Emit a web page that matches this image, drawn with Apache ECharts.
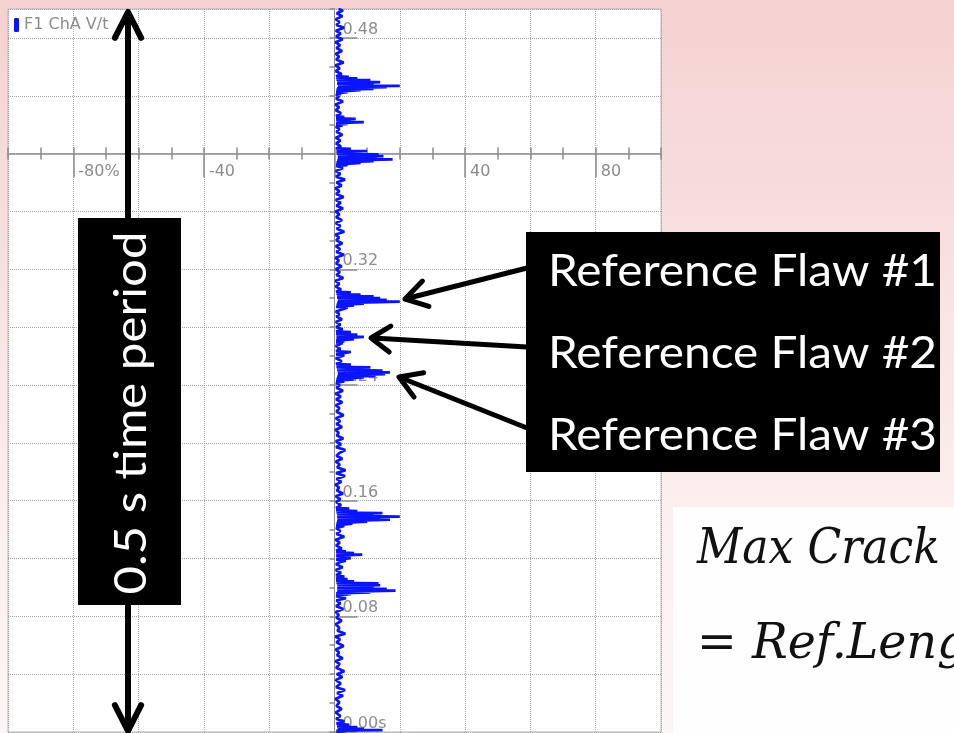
<!DOCTYPE html>
<html>
<head>
<meta charset="utf-8">
<script src="https://cdn.jsdelivr.net/npm/echarts@6/dist/echarts.min.js"></script>
<style>
  html, body { margin: 0; padding: 0; background: #fbe9e9; }
  #chart { width: 954px; height: 733px; }
</style>
</head>
<body>
<div id="chart"></div>
<script>
// ---- scales of the scope screen ----
const ampRange = [-100, 100];          // horizontal deflection, %
const timeRange = [0, 0.5];            // sweep window, s
const axisCrossTime = 0.40;            // where the amplitude axis is drawn

// ---- tick labels ----
const ampMajorTicks = [-80, -40, 0, 40, 80];
const ampTickValues = [-80, -40, 40, 80];
const ampTickLabels = ['-80%', '-40', '40', '80'];
const timeTickValues = [0, 0.08, 0.16, 0.24, 0.32, 0.48];
const timeTickLabels = ['0.00s', '0.08', '0.16', '0.24', '0.32', '0.48'];

const seriesName = 'F1 ChA V/t';

// ---- recorded trace: [time (s), amplitude (%)] ----
const trace = [
  [0.0000, 0.5], [0.0005, 3.5], [0.0009, 0.6], [0.0013, 14.7], [0.0017, 1.0], [0.0022, 9.0],
  [0.0026, 1.0], [0.0034, 7.0], [0.0039, 0.8], [0.0050, 4.5], [0.0058, 0.6], [0.0074, 3.0],
  [0.0090, 0.5], [0.0110, 1.8], [0.0135, 0.4], [0.0160, 2.2], [0.0180, 0.6], [0.0205, 1.5],
  [0.0230, 0.3], [0.0250, 2.6], [0.0270, 0.8], [0.0290, 3.2], [0.0310, 0.5], [0.0335, 1.9],
  [0.0360, 0.4], [0.0380, 2.4], [0.0400, 0.7], [0.0420, 3.0], [0.0445, 0.5], [0.0470, 1.6],
  [0.0490, 0.3], [0.0510, 2.5], [0.0530, 0.8], [0.0550, 1.4], [0.0570, 0.4], [0.0595, 2.8],
  [0.0620, 0.6], [0.0640, 1.7], [0.0660, 0.3], [0.0680, 3.3], [0.0700, 0.9], [0.0720, 1.5],
  [0.0745, 0.4], [0.0770, 2.2], [0.0790, 0.6], [0.0810, 1.3], [0.0830, 0.4], [0.0850, 2.7],
  [0.0870, 0.5], [0.0890, 1.8], [0.0910, 0.6], [0.0925, 3.5], [0.0940, 0.5],
  // echo near 0.10 s
  [0.0955, 5.0], [0.0958, 0.5], [0.0966, 11.0], [0.0969, 0.8], [0.0978, 18.7], [0.0981, 1.0],
  [0.0990, 16.0], [0.0993, 0.8], [0.1003, 12.0], [0.1006, 1.0], [0.1015, 14.0], [0.1018, 0.8],
  [0.1028, 13.5], [0.1031, 0.6], [0.1042, 6.0], [0.1046, 0.5], [0.1058, 4.0], [0.1062, 0.5],
  [0.1075, 3.0], [0.1085, 0.5], [0.1100, 2.0], [0.1120, 0.4], [0.1140, 2.5], [0.1160, 0.5],
  [0.1175, 1.6],
  // small echo near 0.12 s
  [0.1185, 3.5], [0.1192, 0.5], [0.1202, 5.0], [0.1206, 0.6], [0.1216, 4.0], [0.1219, 0.5],
  [0.1226, 8.5], [0.1230, 0.6], [0.1238, 6.0], [0.1242, 0.5], [0.1250, 3.5], [0.1255, 0.5],
  [0.1270, 2.2], [0.1290, 0.5], [0.1310, 1.6], [0.1330, 0.3], [0.1350, 3.0], [0.1370, 0.6],
  [0.1390, 1.8], [0.1410, 0.5],
  // echo near 0.15 s
  [0.1425, 3.0], [0.1429, 0.5], [0.1440, 5.5], [0.1444, 0.6], [0.1455, 10.0], [0.1459, 0.8],
  [0.1468, 17.0], [0.1472, 1.0], [0.1480, 14.0], [0.1484, 0.8], [0.1490, 20.0], [0.1494, 1.0],
  [0.1503, 12.0], [0.1507, 0.8], [0.1514, 14.7], [0.1518, 0.6], [0.1528, 7.0], [0.1532, 0.5],
  [0.1545, 4.5], [0.1550, 0.5], [0.1570, 2.0], [0.1590, 0.5], [0.1610, 1.8], [0.1630, 0.4],
  [0.1650, 2.6], [0.1670, 0.7], [0.1690, 1.4], [0.1710, 0.3], [0.1730, 2.1], [0.1750, 0.6],
  [0.1770, 3.2], [0.1790, 0.5], [0.1810, 3.4], [0.1830, 0.8], [0.1850, 1.6], [0.1870, 0.4],
  [0.1890, 2.4], [0.1910, 0.6], [0.1930, 1.5], [0.1950, 3.3], [0.1970, 0.5], [0.1990, 2.0],
  [0.2010, 0.4], [0.2030, 2.7], [0.2050, 0.7], [0.2070, 1.3], [0.2090, 0.3], [0.2110, 2.3],
  [0.2130, 0.6], [0.2150, 1.7], [0.2170, 0.4], [0.2190, 2.8], [0.2215, 0.6], [0.2240, 1.5],
  [0.2260, 0.4], [0.2280, 2.4], [0.2300, 0.5], [0.2320, 1.9], [0.2340, 0.3], [0.2360, 2.6],
  [0.2380, 0.6], [0.2400, 1.6], [0.2415, 0.5],
  // reference flaw #3
  [0.2425, 3.0], [0.2429, 0.5], [0.2438, 6.0], [0.2442, 0.6], [0.2452, 9.0], [0.2456, 0.8],
  [0.2462, 12.5], [0.2466, 1.0], [0.2475, 15.5], [0.2479, 1.0], [0.2487, 17.0], [0.2491, 1.0],
  [0.2500, 14.7], [0.2504, 0.8], [0.2512, 7.0], [0.2516, 0.7], [0.2522, 11.0], [0.2526, 0.6],
  [0.2540, 5.0], [0.2545, 0.5], [0.2565, 2.2], [0.2585, 0.4], [0.2605, 3.0], [0.2612, 0.5],
  [0.2628, 5.0], [0.2634, 0.5], [0.2650, 1.8], [0.2670, 0.4], [0.2690, 2.5], [0.2695, 0.5],
  // reference flaw #2
  [0.2702, 3.0], [0.2706, 0.5], [0.2716, 6.0], [0.2720, 0.6], [0.2733, 9.0], [0.2737, 0.6],
  [0.2748, 7.0], [0.2752, 0.5], [0.2765, 5.0], [0.2770, 0.5], [0.2785, 2.5], [0.2800, 0.5],
  [0.2818, 1.8], [0.2836, 0.4], [0.2855, 2.3], [0.2873, 0.6], [0.2890, 1.5], [0.2908, 0.4],
  [0.2925, 2.8],
  // reference flaw #1
  [0.2935, 4.0], [0.2939, 0.5], [0.2950, 6.0], [0.2954, 0.6], [0.2962, 9.0], [0.2966, 0.8],
  [0.2976, 20.0], [0.2980, 1.0], [0.2988, 16.0], [0.2992, 1.0], [0.3000, 14.0], [0.3004, 0.8],
  [0.3012, 12.0], [0.3016, 0.8], [0.3025, 8.0], [0.3029, 0.6], [0.3040, 5.0], [0.3045, 0.5],
  [0.3060, 2.0], [0.3080, 0.4], [0.3100, 1.5], [0.3120, 0.3], [0.3140, 2.7], [0.3160, 0.6],
  [0.3180, 1.6], [0.3200, 0.4], [0.3220, 2.2], [0.3240, 0.5], [0.3260, 1.3], [0.3280, 0.3],
  [0.3300, 2.9], [0.3320, 0.6], [0.3340, 1.7], [0.3360, 0.4], [0.3380, 2.4], [0.3400, 0.5],
  [0.3420, 1.4], [0.3440, 0.3], [0.3460, 3.0], [0.3480, 0.7], [0.3500, 1.8], [0.3520, 0.4],
  [0.3540, 2.3], [0.3560, 0.5], [0.3580, 1.5], [0.3600, 0.3], [0.3620, 2.6], [0.3640, 0.6],
  [0.3660, 1.9], [0.3680, 0.4], [0.3700, 2.8], [0.3720, 0.5], [0.3740, 1.5], [0.3760, 0.3],
  [0.3780, 2.2], [0.3800, 0.6], [0.3820, 3.2], [0.3840, 0.5], [0.3860, 1.8], [0.3880, 0.4],
  [0.3900, 2.6], [0.3915, 0.5],
  // echo near 0.40 s
  [0.3920, 4.0], [0.3924, 0.5], [0.3936, 8.0], [0.3940, 0.6], [0.3948, 12.0], [0.3952, 0.8],
  [0.3960, 17.8], [0.3964, 1.0], [0.3972, 13.0], [0.3976, 1.0], [0.3982, 15.0], [0.3986, 1.0],
  [0.3995, 13.5], [0.3999, 0.8], [0.4008, 7.0], [0.4012, 0.6], [0.4018, 10.0], [0.4022, 0.6],
  [0.4032, 5.0], [0.4036, 0.5], [0.4050, 2.0], [0.4070, 0.5], [0.4090, 1.8], [0.4110, 0.4],
  [0.4130, 2.4], [0.4150, 0.6], [0.4170, 1.5], [0.4185, 0.4],
  // small echo near 0.42 s
  [0.4195, 2.5], [0.4200, 0.5], [0.4205, 4.0], [0.4210, 0.5], [0.4218, 9.0], [0.4222, 0.6],
  [0.4230, 5.0], [0.4234, 0.5], [0.4240, 6.5], [0.4244, 0.5], [0.4253, 3.0], [0.4260, 0.5],
  [0.4280, 2.0], [0.4300, 0.4], [0.4320, 1.4], [0.4340, 0.3], [0.4360, 2.6], [0.4380, 0.5],
  [0.4398, 1.5], [0.4405, 0.4],
  // echo near 0.45 s
  [0.4412, 2.0], [0.4416, 0.5], [0.4425, 4.0], [0.4429, 0.5], [0.4438, 8.0], [0.4442, 0.6],
  [0.4448, 12.0], [0.4452, 0.8], [0.4460, 16.0], [0.4464, 1.0], [0.4468, 20.0], [0.4472, 1.0],
  [0.4480, 12.0], [0.4484, 0.8], [0.4494, 14.0], [0.4498, 0.8], [0.4508, 11.0], [0.4512, 0.6],
  [0.4520, 7.0], [0.4524, 0.5], [0.4530, 4.4], [0.4535, 0.5], [0.4550, 2.2], [0.4570, 0.4],
  [0.4590, 1.6], [0.4610, 0.3], [0.4630, 2.8], [0.4650, 0.5], [0.4670, 1.4], [0.4690, 0.4],
  [0.4710, 2.3], [0.4730, 0.6], [0.4750, 1.7], [0.4770, 0.3], [0.4790, 2.5], [0.4810, 0.5],
  [0.4830, 1.9], [0.4850, 0.4], [0.4870, 2.9], [0.4890, 0.6], [0.4910, 1.5], [0.4930, 0.4],
  [0.4950, 2.4], [0.4970, 0.7], [0.4990, 2.6], [0.5000, 1.2]
];

// ---- annotation texts ----
const flawLabels = ['Reference Flaw #1', 'Reference Flaw #2', 'Reference Flaw #3'];
const periodLabel = '0.5 s time period';
const formulaLines = ['Max Crack', '= Ref.Leng'];

// ---- styling ----
const GRAY = '#8c8c8c';
const GRID_GRAY = '#a6a6a6';
const TRACE_BLUE = '#0a14ff';
const labelFont = { fontFamily: 'DejaVu Sans', fontSize: 16, color: GRAY };

const chart = echarts.init(document.getElementById('chart'), null, { renderer: 'canvas', width: 954, height: 733 });

const measureCtx = document.createElement('canvas').getContext('2d');
function textWidth(text, font) {
  measureCtx.font = font;
  return measureCtx.measureText(text).width;
}

function arrow(tail, tip, width, armLen, armAngle) {
  const ang = Math.atan2(tail[1] - tip[1], tail[0] - tip[0]);
  const arm = (s) => [tip[0] + armLen * Math.cos(ang + s * armAngle), tip[1] + armLen * Math.sin(ang + s * armAngle)];
  const start = [tip[0] + 2 * Math.cos(ang), tip[1] + 2 * Math.sin(ang)];
  return [
    { type: 'polyline', z: 100, shape: { points: [tail, start] },
      style: { stroke: '#000', lineWidth: width, fill: null } },
    { type: 'polyline', z: 100, shape: { points: [arm(1), tip, arm(-1)] },
      style: { stroke: '#000', lineWidth: width, fill: null, lineJoin: 'round', lineCap: 'round' } }
  ];
}

function buildGraphics() {
  const els = [];
  // vertical double arrow spanning the sweep
  els.push(...arrow([128, 400], [128, 12], 6, 29, 0.47));
  els.push(...arrow([128, 400], [128, 731], 6, 29, 0.47));

  // rotated caption box
  const capFont = '45px Lato';
  const capScale = 363 / textWidth(periodLabel, capFont);
  els.push({ type: 'rect', z: 101, shape: { x: 78, y: 218, width: 103, height: 387 }, style: { fill: '#000' } });
  els.push({ type: 'text', z: 102, x: 131, y: 413, rotation: Math.PI / 2, scaleX: capScale,
    style: { text: periodLabel, fill: '#fff', font: capFont, align: 'center', verticalAlign: 'middle',
             textAlign: 'center', textVerticalAlign: 'middle' } });

  // flaw pointers
  els.push(...arrow([527, 268], [405, 299], 5, 25, 0.55));
  els.push(...arrow([527, 347], [371, 338], 5, 23, 0.6));
  els.push(...arrow([527, 428], [399, 377], 5, 25, 0.55));

  // flaw caption box
  const flawFont = '45px Lato';
  const flawScale = 389 / textWidth(flawLabels[0], flawFont);
  els.push({ type: 'rect', z: 101, shape: { x: 526, y: 232, width: 414, height: 240 }, style: { fill: '#000' } });
  [271, 353, 435].forEach((cy, i) => {
    els.push({ type: 'text', z: 102, x: 548, y: cy, scaleX: flawScale,
      style: { text: flawLabels[i], fill: '#fff', font: flawFont, align: 'left', verticalAlign: 'middle',
               textAlign: 'left', textVerticalAlign: 'middle' } });
  });

  // formula panel
  const mathFont = 'italic 49px "DejaVu Serif"';
  const mathScales = [
    243 / textWidth(formulaLines[0], mathFont),
    240 / textWidth(formulaLines[1].slice(0, -1), mathFont)
  ];
  els.push({ type: 'rect', z: 101, shape: { x: 673, y: 507, width: 281, height: 226 }, style: { fill: '#fefefe' } });
  [550, 645].forEach((cy, i) => {
    els.push({ type: 'text', z: 102, x: 697, y: cy, scaleX: mathScales[i],
      style: { text: formulaLines[i], fill: '#111', font: mathFont, align: 'left', verticalAlign: 'middle',
               textAlign: 'left', textVerticalAlign: 'middle' } });
  });
  return els;
}

const tickStyle = { color: GRAY, width: 1.5 };

function ampAxis(extra) {
  return Object.assign({
    type: 'value', position: 'bottom', min: ampRange[0], max: ampRange[1], offset: 0,
    axisLine: { show: false, onZero: false },
    axisLabel: { show: false }, splitLine: { show: false }
  }, extra);
}

const option = {
  animation: false,
  backgroundColor: new echarts.graphic.LinearGradient(0, 0, 0, 1, [
    { offset: 0, color: '#f5d1d1' },
    { offset: 0.7, color: '#fcefef' },
    { offset: 1, color: '#fdf5f5' }
  ]),
  legend: {
    left: 9, top: 12, icon: 'roundRect', itemWidth: 5, itemHeight: 14, itemGap: 0,
    selectedMode: false, data: [seriesName],
    textStyle: { ...labelFont }
  },
  grid: {
    left: 8, top: 9, width: 653, height: 723, containLabel: false, outerBoundsMode: 'none',
    show: true, backgroundColor: '#ffffff', borderColor: '#b8b8b8', borderWidth: 1
  },
  xAxis: [
    // main amplitude axis: line, grid and labels
    ampAxis({
      interval: 20,
      axisLine: { show: true, onZero: false, lineStyle: { color: GRAY, width: 1.5 } },
      axisTick: { show: false },
      axisLabel: {
        show: true, customValues: ampTickValues, align: 'left', padding: [0, 0, 0, 5], margin: 10,
        formatter: (v) => { const i = ampTickValues.indexOf(v); return i >= 0 ? ampTickLabels[i] : ''; },
        ...labelFont
      },
      splitLine: { show: true, lineStyle: { color: GRID_GRAY, type: 'dotted', width: 1 } }
    }),
    // small ticks every 10 %, above and below the line
    ampAxis({ interval: 10, axisTick: { show: true, inside: true, length: 6, lineStyle: tickStyle } }),
    ampAxis({ interval: 10, axisTick: { show: true, inside: false, length: 6, lineStyle: tickStyle } }),
    // long ticks at the labelled divisions
    ampAxis({ interval: 20, axisTick: { show: true, customValues: ampMajorTicks, length: 24, lineStyle: tickStyle } })
  ],
  yAxis: [
    {
      type: 'value', position: 'left', min: timeRange[0], max: timeRange[1], interval: 0.04, offset: 0,
      axisLine: { show: true, onZero: false, lineStyle: { color: GRAY, width: 1 } },
      axisTick: { show: true, length: 5, lineStyle: tickStyle },
      minorTick: { show: true, splitNumber: 2, length: 5, lineStyle: tickStyle },
      axisLabel: { show: false },
      splitLine: { show: true, lineStyle: { color: GRID_GRAY, type: 'dotted', width: 1 } }
    },
    {
      type: 'value', position: 'left', min: timeRange[0], max: timeRange[1], interval: 0.04, offset: 0,
      axisLine: { show: false, onZero: false },
      axisTick: { show: true, inside: true, customValues: timeTickValues, length: 23, lineStyle: tickStyle },
      axisLabel: {
        show: true, inside: true, customValues: timeTickValues, margin: 8, verticalAlign: 'bottom',
        formatter: (v) => { const i = timeTickValues.indexOf(v); return i >= 0 ? timeTickLabels[i] : ''; },
        ...labelFont
      },
      splitLine: { show: false }
    }
  ],
  series: [{
    type: 'line', name: seriesName, xAxisIndex: 0, yAxisIndex: 0,
    data: trace.map(([t, a]) => [a, t]),
    showSymbol: false, symbol: 'none', clip: true, z: 5,
    lineStyle: { color: TRACE_BLUE, width: 2.7 },
    itemStyle: { color: TRACE_BLUE }
  }],
  graphic: { elements: buildGraphics() }
};

chart.setOption(option);

// place the amplitude axis on the 0.40 s line and the time axis on 0 %;
// run twice so the offsets are taken from the settled layout
for (let pass = 0; pass < 2; pass++) {
  const leftPx = chart.convertToPixel({ xAxisIndex: 0 }, ampRange[0]);
  const zeroPx = chart.convertToPixel({ xAxisIndex: 0 }, 0);
  const bottomPx = chart.convertToPixel({ yAxisIndex: 0 }, timeRange[0]);
  const crossPx = chart.convertToPixel({ yAxisIndex: 0 }, axisCrossTime);
  const xOff = crossPx - bottomPx;
  const yOff = leftPx - zeroPx;
  chart.setOption({
    xAxis: [{ offset: xOff }, { offset: xOff }, { offset: xOff }, { offset: xOff }],
    yAxis: [{ offset: yOff }, { offset: yOff }]
  });
}
</script>
</body>
</html>
